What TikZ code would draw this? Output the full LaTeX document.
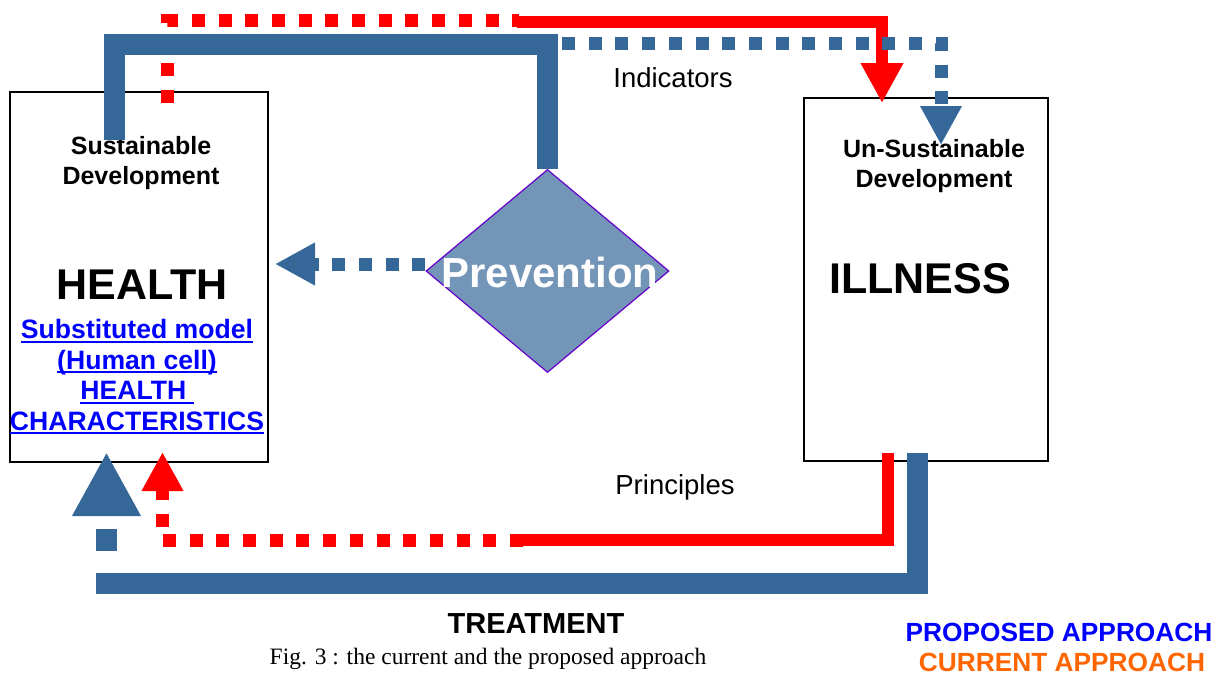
\documentclass[tikz,border=0pt]{standalone}
\usepackage{fontspec}
\setmainfont{Liberation Sans}
\newfontfamily\capfont{Liberation Serif}
\usetikzlibrary{arrows.meta,shapes.geometric}
\definecolor{pblue}{RGB}{53,104,153}
\definecolor{dfill}{RGB}{114,149,184}
\definecolor{dline}{RGB}{102,0,204}
\definecolor{cred}{RGB}{255,0,0}
\definecolor{tblue}{RGB}{0,0,255}
\definecolor{torange}{RGB}{255,102,0}
% underlined line of text with a fixed rule position
\newsavebox\ulinebox
\newcommand\ulined[1]{\sbox\ulinebox{#1}\rlap{\usebox\ulinebox}\rule[-4pt]{\wd\ulinebox}{2pt}}
\begin{document}
\begin{tikzpicture}[x=1pt,y=-1pt,
  panel/.style={draw=black,line width=1.5pt,anchor=north west,inner sep=0pt},
  propthick/.style={draw=pblue,line width=21pt},
  propdots/.style={draw=pblue,line width=13pt,dash pattern=on 13pt off 13.7pt},
  propbigdots/.style={draw=pblue,line width=21pt,dash pattern=on 22pt off 22pt,dash phase=22pt},
  curline/.style={draw=cred,line width=12.5pt},
  curdots/.style={draw=cred,line width=13pt,dash pattern=on 13pt off 13.7pt},
  tip/.style={-{Triangle[length=#1,width=#1]}},
  title/.style={font=\fontsize{25}{30.5}\selectfont\bfseries,align=center,inner sep=0pt},
  big/.style={font=\fontsize{43}{48}\selectfont\bfseries,inner sep=0pt},
  label/.style={font=\fontsize{27.5}{32}\selectfont,inner sep=0pt},
  legend/.style={font=\fontsize{26.3}{30}\selectfont\bfseries,inner sep=0pt}]
\useasboundingbox (0,0) rectangle (1225,675);

% the two states
\node[panel,minimum width=258pt,minimum height=370pt] (hb) at (9,91) {};
\node[panel,minimum width=244pt,minimum height=363pt] (ib) at (803,97) {};

% prevention diamond
\node[diamond,draw=dline,line width=1.2pt,fill=dfill,minimum width=243pt,
      minimum height=203pt,inner sep=0pt] (prev) at (547.5,271) {};
\node[font=\fontsize{42}{46}\selectfont\bfseries,text=white,inner sep=0pt]
      (prevtxt) at (550,272) {Prevention};

% texts in the boxes
\node[title] (sd) at (141,163) {Sustainable\\Development};
\node[big] (health) at (142,285) {HEALTH};
\node[title,font=\fontsize{26.6}{30.5}\selectfont\bfseries,text=tblue] (model) at (137,377)
  {\ulined{Substituted model}\\\ulined{(Human cell)}\\\ulined{HEALTH\ }\\\ulined{CHARACTERISTICS}};
\node[title] (usd) at (934,166) {Un-Sustainable\\Development};
\node[big] (ill) at (920,279) {ILLNESS};

% corner points of the connectors
\coordinate (bT0) at (114.5,140);
\coordinate (bT1) at (114.5,44);
\coordinate (bD0) at (562,43);
\coordinate (bD1) at (941,43);
\coordinate (bDtip) at (941,145);
\coordinate (rD0) at (167.5,103);
\coordinate (rD1) at (167.5,20.5);
\coordinate (rD2) at (519,20.5);
\coordinate (rS0) at (517,22);
\coordinate (rS1) at (882,22);
\coordinate (rStip) at (882,103);
\coordinate (pTip) at (275,264);
\coordinate (rB0) at (888,453);
\coordinate (rB1) at (888,540);
\coordinate (rB2) at (523,540);
\coordinate (rB3) at (162.5,540);
\coordinate (rBtip) at (162.5,452);
\coordinate (bB0) at (917,453);
\coordinate (bB1) at (917,583);
\coordinate (bB2) at (96,583);
\coordinate (bB3) at (106.5,573);
\coordinate (bBtip) at (106.5,452);

% current approach (red)
\draw[curdots] (rD0) -- (rD1) -- (rD2);
\draw[curline,tip=40pt] (rS0) -- (rS1) -- (rStip);
\draw[curline] (rB0) -- (rB1) -- (rB2);
\draw[curdots,tip=39pt] (rB2) -- (rB3) -- (rBtip);

% proposed approach (blue)
\draw[propthick] (bT0) -- (bT1) -- (bT1 -| prev.north) -- (prev.north);
\draw[propdots,tip=39pt] (bD0) -- (bD1) -- (bDtip);
\draw[propdots,tip=40pt] ([yshift=7pt]prev.west) -- (pTip);
\draw[propthick] (bB0) -- (bB1) -- (bB2);
\draw[propbigdots,tip=64pt] (bB3) -- (bBtip);

% labels
\node[label] (ind) at (673,78) {Indicators};
\node[label] (pri) at (675,487) {Principles};
\node[font=\fontsize{29}{33}\selectfont\bfseries,inner sep=0pt] (treat) at (536,624) {TREATMENT};
\node[font=\fontsize{23.5}{27}\selectfont\capfont,inner sep=0pt] (cap) at (488,659)
  {Fig. 3 : the current and the proposed approach};
\node[legend,text=tblue] (lp) at (1059,632) {PROPOSED APPROACH};
\node[legend,text=torange] (lc) at (1062,662) {CURRENT APPROACH};
\end{tikzpicture}
\end{document}
